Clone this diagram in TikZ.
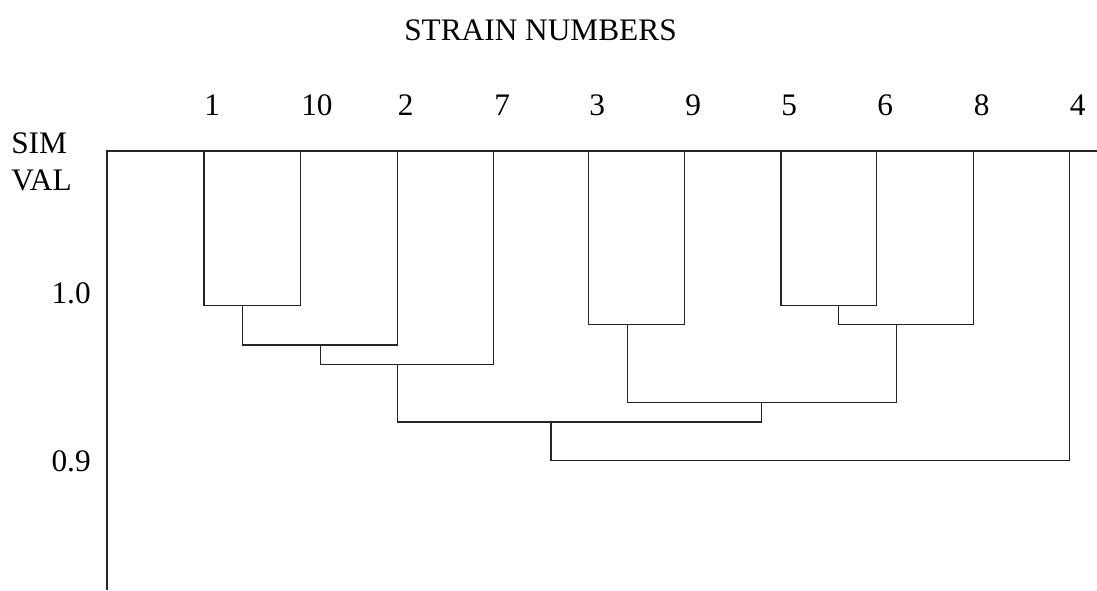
\documentclass[tikz,border=0pt]{standalone}
\usepackage{fontspec}
\setmainfont{Liberation Serif}
\begin{document}
\begin{tikzpicture}[x=0.75pt,y=-0.75pt,
  txt/.style={inner sep=0pt,font=\fontsize{23.5}{28}\selectfont},
  leaflabel/.style={txt,anchor=base west},
  tree/.style={line width=1pt,black!85,line join=miter}]
\useasboundingbox (0,0) rectangle (1097,590);
% title and axis labels
\node[txt,anchor=base] (title) at (540.5,40) {STRAIN NUMBERS};
\node[txt,anchor=base west] (sim) at (11,153) {SIM};
\node[txt,anchor=base west] (val) at (11,190) {VAL};
\node[txt,anchor=base east] (t10) at (91,303) {1.0};
\node[txt,anchor=base east] (t09) at (91,471.5) {0.9};
% leaf tops
\coordinate (l1) at (204,151);
\coordinate (l10) at (300.6,151);
\coordinate (l2) at (397.4,151);
\coordinate (l7) at (493.5,151);
\coordinate (l3) at (588.7,151);
\coordinate (l9) at (684.6,151);
\coordinate (l5) at (780.9,151);
\coordinate (l6) at (876.8,151);
\coordinate (l8) at (973.4,151);
\coordinate (l4) at (1069.3,151);
% leaf labels
\node[leaflabel] (n1) at (204,115) {1};
\node[leaflabel] (n10) at (301,115) {10};
\node[leaflabel] (n2) at (397.5,115) {2};
\node[leaflabel] (n7) at (494,115) {7};
\node[leaflabel] (n3) at (589,115) {3};
\node[leaflabel] (n9) at (685,115) {9};
\node[leaflabel] (n5) at (781,115) {5};
\node[leaflabel] (n6) at (877,115) {6};
\node[leaflabel] (n8) at (973.5,115) {8};
\node[leaflabel] (n4) at (1069.5,115) {4};
% axis frame
\coordinate (axb) at (107,590);
\coordinate (axt) at (107,151);
\coordinate (axr) at (1097,151);
\draw[tree] (axb) -- (axt) -- (axr);
% join points
\coordinate (j110) at (242.7,305.5);
\coordinate (j1102) at (320.2,345);
\coordinate (j11027) at (397.4,364.5);
\coordinate (j39) at (627.5,324.5);
\coordinate (j56) at (838.4,305.3);
\coordinate (j568) at (896.8,324.7);
\coordinate (j39568) at (761.5,402.3);
\coordinate (jA) at (551,422);
\coordinate (root) at (810,460.5);
% dendrogram
\draw[tree] (l1) |- (j110) -| (l10);
\draw[tree] (j110) |- (j1102) -| (l2);
\draw[tree] (j1102) |- (j11027) -| (l7);
\draw[tree] (l3) |- (j39) -| (l9);
\draw[tree] (l5) |- (j56) -| (l6);
\draw[tree] (j56) |- (j568) -| (l8);
\draw[tree] (j39) |- (j39568) -| (j568);
\draw[tree] (j11027) |- (jA) -| (j39568);
\draw[tree] (jA) |- (root) -| (l4);
\end{tikzpicture}
\end{document}
